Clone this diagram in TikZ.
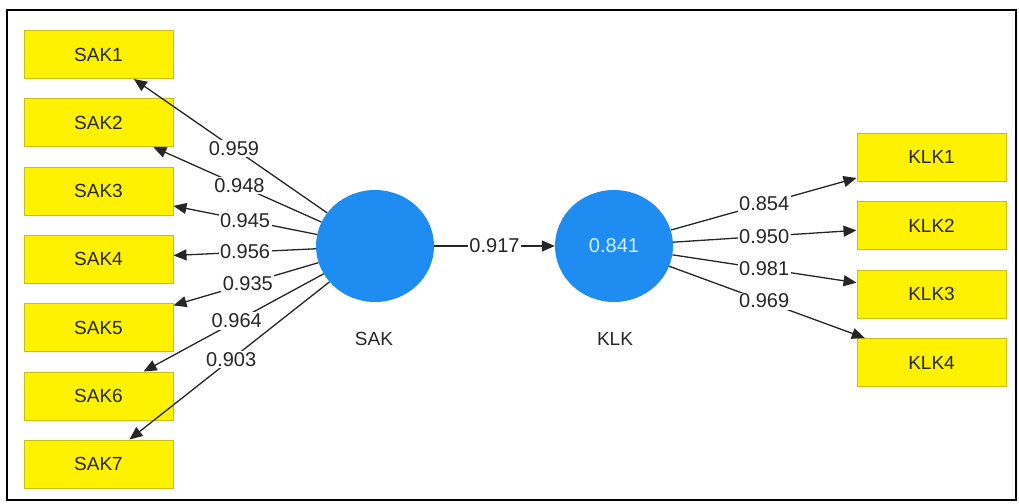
\documentclass[tikz,border=0pt]{standalone}
\usepackage{fontspec}
\setmainfont{Liberation Sans}
\usetikzlibrary{arrows.meta,calc,shapes.geometric}
\definecolor{lvblue}{RGB}{30,140,240}
\definecolor{boxedge}{RGB}{200,190,20}
\definecolor{inval}{RGB}{205,240,255}
\begin{document}
\begin{tikzpicture}[x=1pt,y=-1pt,
  ind/.style={draw=boxedge,fill=yellow,line width=1pt,minimum width=149pt,minimum height=48pt,inner sep=0pt,text=black!85,font=\fontsize{19}{22}\selectfont},
  lv/.style={ellipse,fill=lvblue,minimum width=118pt,minimum height=112pt,inner sep=0pt,text=inval,font=\fontsize{20}{22}\selectfont},
  lvname/.style={text=black!85,font=\fontsize{19}{22}\selectfont},
  lbl/.style={fill=white,inner sep=1.5pt,text=black!85,font=\fontsize{20}{22}\selectfont},
  con/.style={draw=black!85,line width=1.3pt,-{Triangle[length=13pt,width=11pt]}}]
\useasboundingbox (0,0) rectangle (1019,503);
\draw[line width=2pt] (7,10) rectangle (1016,500);
% latent variables
\node[lv] (SAK) at (375,246) {};
\node[lv] (KLK) at (614,246) {0.841};
\node[lvname] (SAKn) at (374,339) {SAK};
\node[lvname] (KLKn) at (615,339) {KLK};
% indicators
\node[ind] (SAK1) at (98.5,54.5) {SAK1};
\node[ind] (SAK2) at (98.5,122.5) {SAK2};
\node[ind] (SAK3) at (98.5,191) {SAK3};
\node[ind] (SAK4) at (98.5,259) {SAK4};
\node[ind] (SAK5) at (98.5,327.5) {SAK5};
\node[ind] (SAK6) at (98.5,396) {SAK6};
\node[ind] (SAK7) at (98.5,464) {SAK7};
\node[ind] (KLK1) at (931.5,157) {KLK1};
\node[ind] (KLK2) at (931.5,225.5) {KLK2};
\node[ind] (KLK3) at (931.5,294) {KLK3};
\node[ind] (KLK4) at (931.5,362.5) {KLK4};
% connectors
\foreach \i in {1,...,7} {\draw[con] (SAK) -- (SAK\i);}
\foreach \i in {1,...,4} {\draw[con] (KLK) -- (KLK\i);}
\draw[con] (SAK) -- (KLK);
% loadings
\node[lbl] at ($(SAK)!0.51!(SAK1)$) {0.959};
\node[lbl] at ($(SAK)!0.49!(SAK2)$) {0.948};
\node[lbl] at ($(SAK)!0.47!(SAK3)$) {0.945};
\node[lbl] at ($(SAK)!0.47!(SAK4)$) {0.956};
\node[lbl] at ($(SAK)!0.46!(SAK5)$) {0.935};
\node[lbl] at ($(SAK)!0.50!(SAK6)$) {0.964};
\node[lbl] at ($(SAK)!0.52!(SAK7)$) {0.903};
\node[lbl] at ($(SAK)!0.5!(KLK)$) {0.917};
\node[lbl] at ($(KLK)!0.473!(KLK1)$) {0.854};
\node[lbl] at ($(KLK)!0.473!(KLK2)$) {0.950};
\node[lbl] at ($(KLK)!0.473!(KLK3)$) {0.981};
\node[lbl] at ($(KLK)!0.473!(KLK4)$) {0.969};
\end{tikzpicture}
\end{document}
